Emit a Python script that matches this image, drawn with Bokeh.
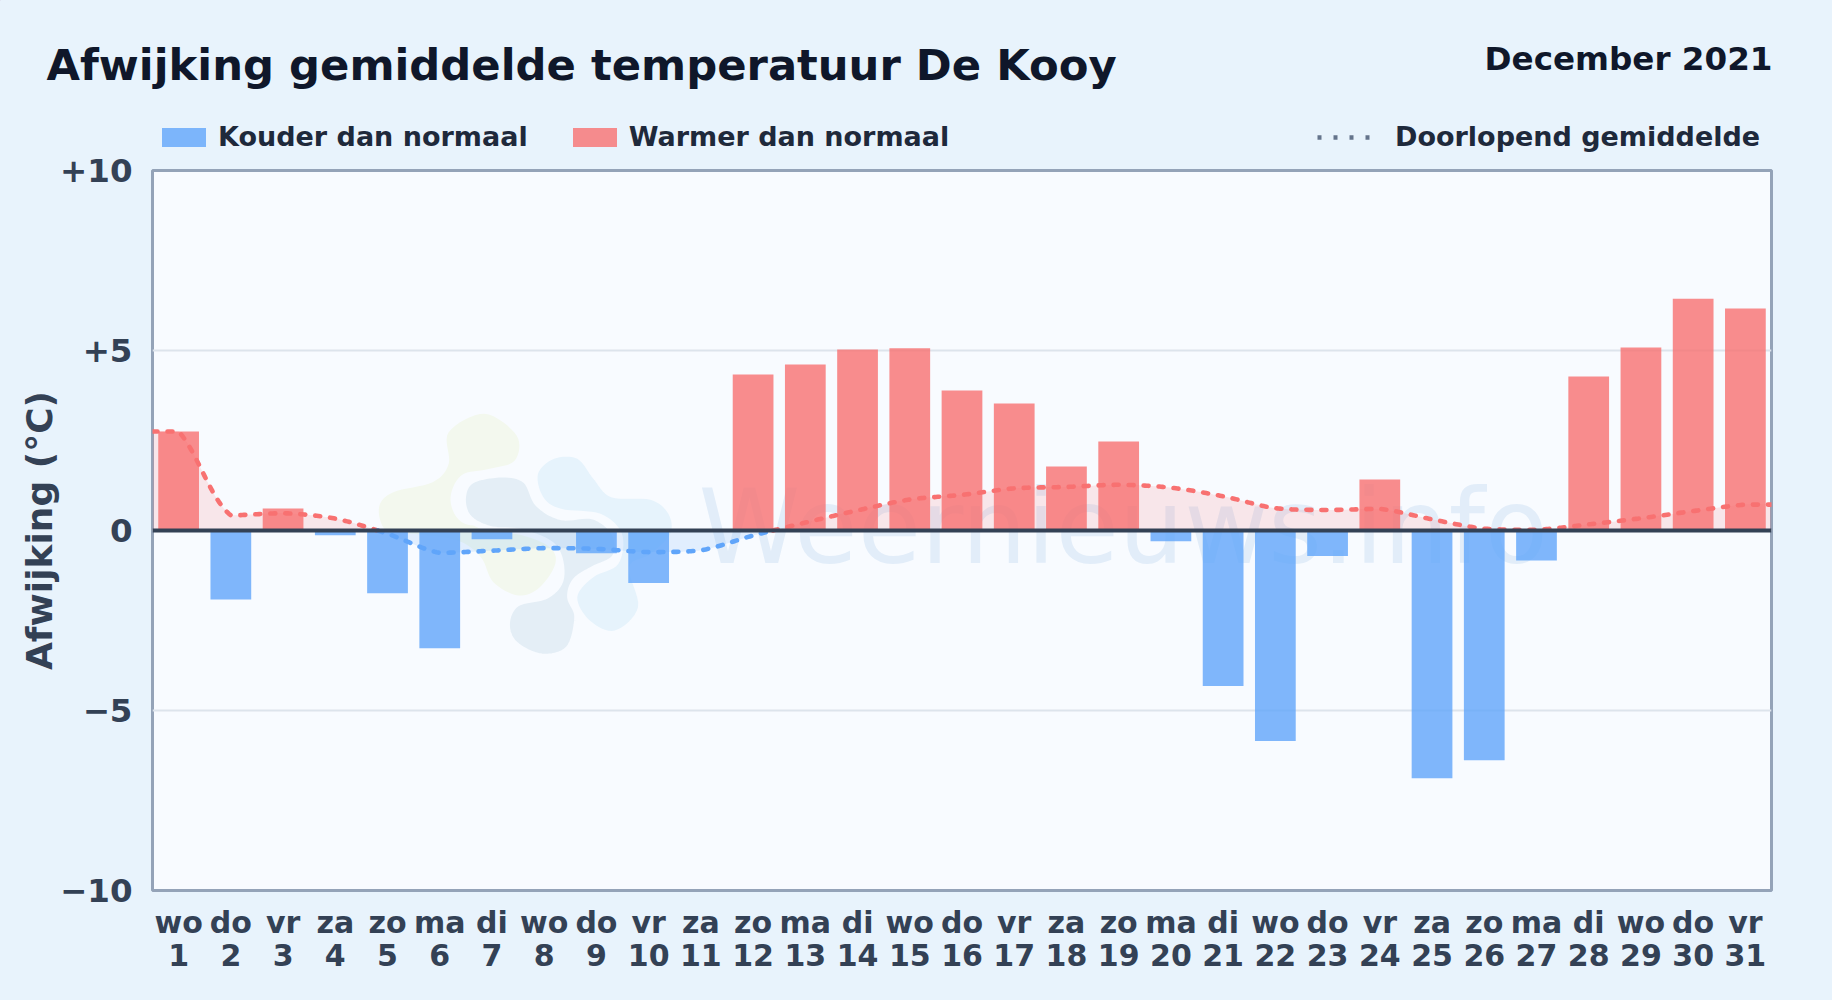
import numpy as np
from bokeh.embed import file_html
from bokeh.layouts import column
from bokeh.resources import INLINE
from bokeh.plotting import figure
from bokeh.core.properties import value
from bokeh.models import ColumnDataSource, FixedTicker, Legend, LegendItem, Range1d

# ---------- data ----------
weekdays = ["wo","do","vr","za","zo","ma","di","wo","do","vr","za","zo","ma","di","wo","do",
            "vr","za","zo","ma","di","wo","do","vr","za","zo","ma","di","wo","do","vr"]
days = list(range(1, 32))
anomaly = [2.75,-1.92,0.61,-0.13,-1.74,-3.27,-0.24,0.0,-0.63,-1.46,0.0,4.33,4.61,5.03,5.06,3.89,
           3.53,1.78,2.47,-0.30,-4.32,-5.85,-0.71,1.42,-6.88,-6.38,-0.83,4.28,5.08,6.44,6.17]
running_mean = [2.75,0.42,0.48,0.33,-0.09,-0.62,-0.56,-0.49,-0.51,-0.60,-0.55,-0.14,0.22,0.56,0.86,0.99,
                1.17,1.21,1.27,1.19,0.95,0.62,0.57,0.60,0.31,0.05,0.02,0.17,0.34,0.54,0.72]
y_ticks = [-10,-5,0,5,10]
y_tick_labels = ["\u221210","\u22125","0","+5","+10"]
title_text = "Afwijking gemiddelde temperatuur De Kooy"
period_text = "December 2021"
legend_cold = "Kouder dan normaal"
legend_warm = "Warmer dan normaal"
legend_mean = "Doorlopend gemiddelde"

# ---------- styling ----------
PAGE = "#e8f3fc"
PANEL = "#f8fbff"
RED = "#f87171"
BLUE = "#60a5fa"
W, H = 1832, 1000
HEAD = 152                       # height of the heading strip above the chart
L, R, T, B = 152, 61, 170, 110   # frame margins in the whole picture
SX = (W - L - R) / 31            # pixels per day
SY = (H - T - B) / 20            # pixels per degree


def spline(x, y, tension=0.3, per=30):
    """Bezier spline through the points, kept between neighbouring points, for drawing the curve."""
    x, y = np.asarray(x, float), np.asarray(y, float)
    n = len(x)
    d = np.hypot(np.diff(x) * SX, np.diff(y) * SY)
    cx1, cy1, cx2, cy2 = np.zeros(n), np.zeros(n), np.zeros(n), np.zeros(n)
    for i in range(n):
        prev, nxt = max(i - 1, 0), min(i + 1, n - 1)
        d0 = d[i-1] if i > 0 else 0.0
        d1 = d[i] if i < n - 1 else 0.0
        tot = d0 + d1
        fa, fb = (tension * d0 / tot, tension * d1 / tot) if tot else (0.0, 0.0)
        cx1[i], cy1[i] = x[i] - fa * (x[nxt] - x[prev]), y[i] - fa * (y[nxt] - y[prev])
        cx2[i], cy2[i] = x[i] + fb * (x[nxt] - x[prev]), y[i] + fb * (y[nxt] - y[prev])
    xs, ys = [], []
    t = np.linspace(0, 1, per, endpoint=False)
    for i in range(n - 1):
        lo, hi = min(y[i], y[i+1]), max(y[i], y[i+1])
        c1, c2 = np.clip(cy2[i], lo, hi), np.clip(cy1[i+1], lo, hi)
        a, b, c, e = (1-t)**3, 3*(1-t)**2*t, 3*(1-t)*t**2, t**3
        xs.append(a*x[i] + b*cx2[i] + c*cx1[i+1] + e*x[i+1])
        ys.append(a*y[i] + b*c1 + c*c2 + e*y[i+1])
    return np.append(np.concatenate(xs), x[-1]), np.append(np.concatenate(ys), y[-1])


def split_sign(x, y):
    """Split the curve at zero into runs of positive and negative values."""
    runs = {1: ([], []), -1: ([], [])}
    cur_x, cur_y = [x[0]], [y[0]]
    sign = 1 if y[0] >= 0 else -1
    for i in range(1, len(x)):
        s = 1 if y[i] >= 0 else -1
        if s != sign:
            x0 = x[i-1] + (x[i]-x[i-1]) * (0 - y[i-1]) / (y[i]-y[i-1])
            cur_x.append(x0); cur_y.append(0.0)
            runs[sign][0].append(cur_x); runs[sign][1].append(cur_y)
            cur_x, cur_y = [x0], [0.0]
            sign = s
        cur_x.append(x[i]); cur_y.append(y[i])
    runs[sign][0].append(cur_x); runs[sign][1].append(cur_y)
    return runs


# ---------- heading strip: title, month, legends ----------
head = figure(width=W, height=HEAD, output_backend="svg", toolbar_location=None,
              x_range=Range1d(0, W), y_range=Range1d(HEAD, 0),
              x_axis_location=None, y_axis_location=None, frame_align=False,
              min_border=0, background_fill_color=PAGE, border_fill_color=PAGE)
head.outline_line_color = None
head.grid.visible = False
head.text(x=[46], y=[64.5], text=[title_text], text_font=value("DejaVu Sans"), text_font_style="bold",
          text_font_size="43.3px", text_color="#0f172a", text_baseline="alphabetic")
head.text(x=[1772], y=[58], text=[period_text], text_align="right", text_font=value("DejaVu Sans"),
          text_font_style="bold", text_font_size="32.6px", text_color="#0f172a", text_baseline="alphabetic")
# legend keys: the glyphs sit outside the strip's ranges, only their legend swatches show
key_cold = head.vbar(x=[-999], top=[-999], bottom=[-998], width=1, fill_color=BLUE, fill_alpha=0.8, line_color=None)
key_warm = head.vbar(x=[-999], top=[-999], bottom=[-998], width=1, fill_color=RED, fill_alpha=0.8, line_color=None)
key_mean = head.line([-999, -998], [-999, -999], line_color="#64748b", line_width=4.5, line_dash="4 12")


def make_legend(items, loc, spacing, standoff, glyph_width):
    lg = Legend(items=items, location=loc, orientation="horizontal", spacing=spacing, padding=0, margin=0,
                background_fill_alpha=0, border_line_color=None, glyph_width=glyph_width, glyph_height=24,
                label_standoff=standoff, label_text_font="DejaVu Sans", label_text_font_style="bold",
                label_text_font_size="27px", label_text_color="#1e293b", label_height=24)
    head.add_layout(lg, "center")


make_legend([LegendItem(label=legend_cold, renderers=[key_cold]),
             LegendItem(label=legend_warm, renderers=[key_warm])], (156, 0), 39, 7, 55)
make_legend([LegendItem(label=legend_mean, renderers=[key_mean])], (1317, 0), 0, 22, 56)

# ---------- chart ----------
p = figure(width=W, height=H - HEAD, output_backend="svg", toolbar_location=None,
           x_range=Range1d(0.5, 31.5), y_range=Range1d(-10, 10), frame_align=False,
           min_border_left=L, min_border_right=R, min_border_top=T - HEAD, min_border_bottom=B,
           background_fill_color=PANEL, border_fill_color=PAGE)
p.outline_line_color = "#94a3b8"
p.outline_line_width = 3

# watermark: logo shapes and name
def to_x(px): return 0.5 + (np.asarray(px, float) - L) / SX
def to_y(py): return (530 - np.asarray(py, float)) / SY


def blob(pts, per=8):
    pts = np.asarray(pts, float)
    px, py = 150 + pts[:, 0] / 2.8, 400 + pts[:, 1] / 3
    n = len(px); xs, ys = [], []
    for i in range(n):
        t = np.linspace(0, 1, per, endpoint=False)
        for arr, out in ((px, xs), (py, ys)):
            a, b, c, d = arr[(i-1) % n], arr[i], arr[(i+1) % n], arr[(i+2) % n]
            out.append(0.5*((2*b) + (c-a)*t + (2*a-5*b+4*c-d)*t**2 + (3*b-a-3*c+d)*t**3))
    return to_x(np.concatenate(xs)), to_y(np.concatenate(ys))


logo_green = [(835,95),(935,40),(1025,105),(1020,180),(950,205),(870,225),(840,300),(880,370),(1000,375),
              (1100,400),(1135,480),(1090,560),(1030,585),(960,545),(925,470),(860,420),(740,400),(660,390),
              (640,320),(680,275),(790,245),(835,190)]
logo_sky = [(1085,220),(1130,175),(1195,175),(1240,235),(1290,290),(1400,298),(1450,340),(1455,400),(1400,460),
            (1340,500),(1365,620),(1300,690),(1230,660),(1195,590),(1240,530),(1310,490),(1320,400),(1260,340),
            (1150,325),(1100,290)]
logo_slate = [(875,290),(900,240),(985,222),(1050,240),(1085,310),(1150,350),(1240,348),(1300,400),(1300,470),
              (1240,505),(1190,540),(1175,590),(1195,650),(1170,745),(1095,768),(1020,730),(998,670),(1025,610),
              (1110,585),(1150,530),(1130,440),(1040,395),(950,385),(890,350)]
for pts, col, edge in ((logo_green, "#f3f8ee", None), (logo_sky, "#e6f3fc", None), (logo_slate, "#e4eef6", PANEL)):
    bx, by = blob(pts)
    p.patch(bx, by, fill_color=col, line_color=edge, line_width=6)
p.text(x=[to_x(698)], y=[to_y(526)], text=["Weernieuws.info"], text_font=value("DejaVu Sans"),
       text_font_size="103px", text_font_style="normal", text_color="#3b82c4", text_alpha=0.11, text_baseline="alphabetic")

# axes and grid
p.grid.grid_line_color = "#dde4ec"
p.grid.grid_line_width = 1.8
p.xgrid.visible = False
p.ygrid.ticker = FixedTicker(ticks=y_ticks)

p.xaxis.ticker = FixedTicker(ticks=days)
p.xaxis.major_label_overrides = {d: f"{w}\n{d}" for d, w in zip(days, weekdays)}
p.yaxis.ticker = FixedTicker(ticks=y_ticks)
p.yaxis.major_label_overrides = dict(zip(y_ticks, y_tick_labels))
for ax in (p.xaxis[0], p.yaxis[0]):
    ax.axis_line_color = None
    ax.major_tick_line_color = None
    ax.minor_tick_line_color = None
    ax.major_label_text_color = "#334155"
    ax.major_label_text_font = "DejaVu Sans"
    ax.major_label_text_font_style = "bold"
p.xaxis.major_label_text_font_size = "30px"
p.xaxis.major_label_text_line_height = 0.95
p.xaxis.major_label_standoff = 8
p.yaxis.major_label_text_font_size = "32.5px"
p.yaxis.major_label_standoff = 14
p.yaxis.axis_label = "Afwijking (\u00b0C)"
p.yaxis.axis_label_text_font = "DejaVu Sans"
p.yaxis.axis_label_text_font_style = "bold"
p.yaxis.axis_label_text_font_size = "36px"
p.yaxis.axis_label_text_color = "#334155"
p.yaxis.axis_label_standoff = -3

# bars
vals = np.array(anomaly)
neg = ColumnDataSource(dict(x=[d for d, v in zip(days, anomaly) if v < 0], top=vals[vals < 0]))
pos = ColumnDataSource(dict(x=[d for d, v in zip(days, anomaly) if v > 0], top=vals[vals > 0]))
p.vbar(x="x", top="top", bottom=0, width=0.78, source=neg, fill_color=BLUE, fill_alpha=0.8, line_color=None)
p.vbar(x="x", top="top", bottom=0, width=0.78, source=pos, fill_color=RED, fill_alpha=0.8, line_color=None)

# running mean (flat out to the frame edges)
cx, cy = spline([0.5] + days + [31.5], [running_mean[0]] + running_mean + [running_mean[-1]])
p.varea(x=cx, y1=np.zeros_like(cx), y2=np.maximum(cy, 0), fill_color=RED, fill_alpha=0.15)
p.varea(x=cx, y1=np.zeros_like(cx), y2=np.minimum(cy, 0), fill_color=BLUE, fill_alpha=0.15)
runs = split_sign(cx, cy)
for sign, col in ((1, RED), (-1, BLUE)):
    p.multi_line(runs[sign][0], runs[sign][1], line_color=col, line_width=4.6,
                 line_dash="5 10", line_cap="round", line_join="round")

# zero line
p.hspan(y=[0], line_color="#334155", line_width=4)

page = column(head, p, spacing=0)
html = file_html(page, INLINE).replace("<body>", f'<body style="background:{PAGE}">')
open("out.html", "w").write(html)
